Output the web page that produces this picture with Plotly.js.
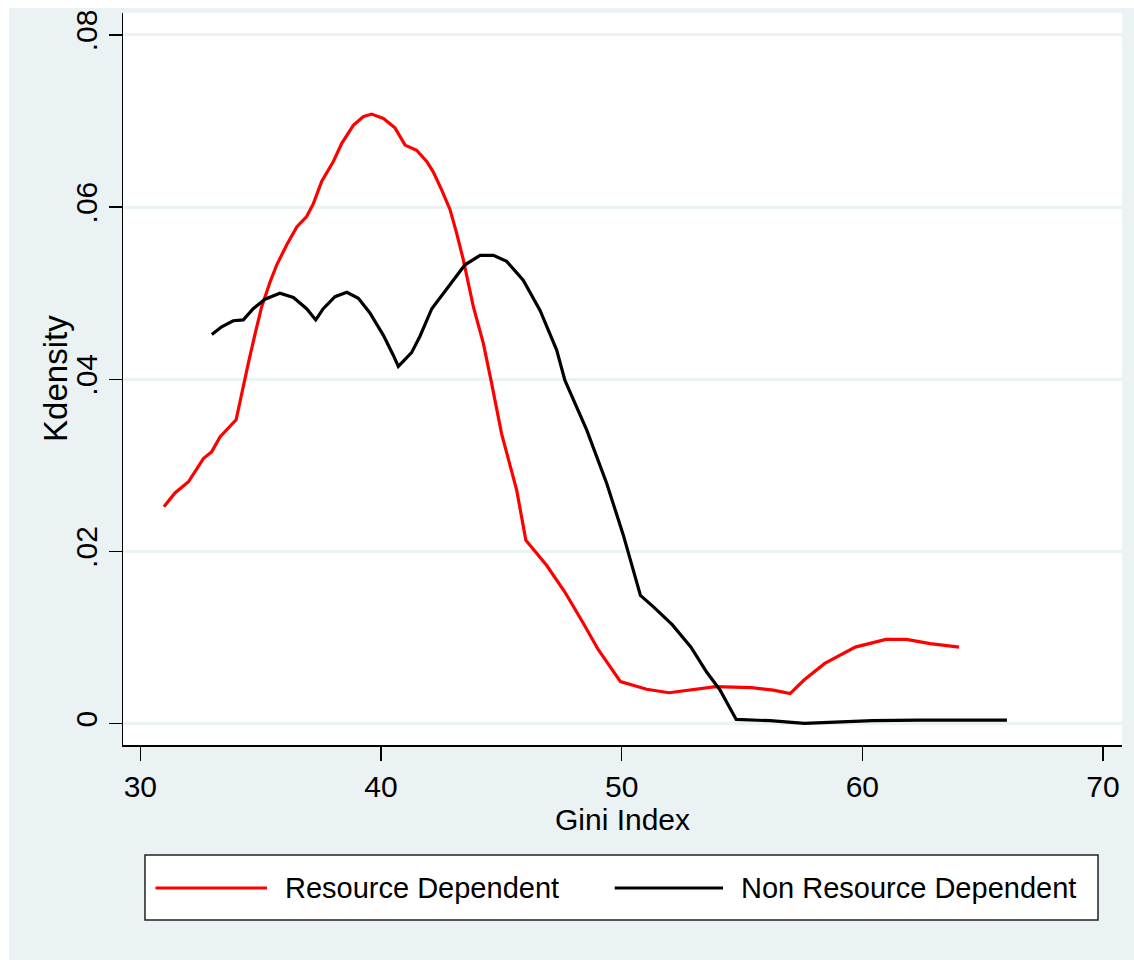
<!DOCTYPE html>
<html>
<head>
<meta charset="utf-8">
<script src="https://cdn.plot.ly/plotly-3.0.1.min.js"></script>
<style>
  html, body { margin: 0; padding: 0; background: #ffffff; }
  #chart { position: absolute; left: 9px; top: 8px; width: 1125px; height: 952px; }
</style>
</head>
<body>
<div id="chart"></div>
<script>
// Kernel density of the Gini index, by resource dependence
const resGini = [30.98, 31.44, 32.0, 32.62, 32.97, 33.31, 33.98, 34.21, 34.49, 34.77, 35.04, 35.39, 35.67, 36.08, 36.5, 36.91, 37.19, 37.54, 38.02, 38.37, 38.85, 39.26, 39.61, 40.1, 40.58, 41.0, 41.48, 41.9, 42.17, 42.52, 42.87, 43.14, 43.42, 43.84, 44.25, 44.6, 45.01, 45.64, 46.02, 46.88, 47.64, 48.4, 49.03, 49.95, 51.04, 51.97, 52.98, 53.91, 55.4, 56.3, 57.0, 57.59, 58.44, 59.71, 60.98, 61.83, 62.82, 64.02];
const resDensity = [0.0252, 0.0268, 0.0281, 0.0308, 0.0316, 0.0333, 0.0353, 0.0384, 0.0419, 0.0453, 0.0484, 0.0513, 0.0533, 0.0556, 0.0577, 0.0589, 0.0604, 0.063, 0.0653, 0.0674, 0.0695, 0.0705, 0.0708, 0.0703, 0.0692, 0.0672, 0.0666, 0.0653, 0.0641, 0.062, 0.0597, 0.057, 0.0539, 0.0484, 0.0442, 0.0395, 0.0337, 0.0271, 0.0213, 0.0184, 0.0153, 0.0117, 0.0086, 0.0049, 0.004, 0.0036, 0.004, 0.0043, 0.0042, 0.0039, 0.0035, 0.0051, 0.007, 0.0089, 0.0098, 0.0098, 0.0093, 0.0089];

const nonResGini = [32.97, 33.38, 33.86, 34.28, 34.69, 35.18, 35.8, 36.36, 36.91, 37.29, 37.6, 38.09, 38.58, 39.06, 39.54, 40.1, 40.51, 40.72, 41.27, 41.62, 42.11, 42.87, 43.49, 44.12, 44.67, 45.22, 45.91, 46.61, 47.3, 47.64, 48.55, 49.38, 50.07, 50.78, 51.31, 52.1, 52.88, 53.53, 54.09, 54.76, 56.17, 57.59, 58.72, 60.42, 62.4, 66.01];
const nonResDensity = [0.0452, 0.0461, 0.0468, 0.0469, 0.0482, 0.0493, 0.05, 0.0495, 0.0482, 0.0469, 0.0482, 0.0496, 0.0501, 0.0494, 0.0477, 0.0451, 0.0428, 0.0415, 0.0431, 0.045, 0.0482, 0.051, 0.0533, 0.0544, 0.0544, 0.0537, 0.0515, 0.048, 0.0434, 0.0399, 0.0341, 0.0279, 0.0219, 0.0149, 0.0136, 0.0115, 0.0089, 0.006, 0.0039, 0.0005, 0.00035, 0.00005, 0.00016, 0.00035, 0.00043, 0.00043];

const xTicks = [30, 40, 50, 60, 70];
const yTicks = [0, 0.02, 0.04, 0.06, 0.08];
const yTickText = ['0', '.02', '.04', '.06', '.08'];
const seriesNames = ['Resource Dependent', 'Non Resource Dependent'];
const seriesColors = ['#ff0000', '#000000'];

const FONT = 'Liberation Sans, Arial, Helvetica, sans-serif';
const BG = '#eaf2f3';

const traces = [
  { x: resGini, y: resDensity, name: seriesNames[0], type: 'scatter', mode: 'lines',
    line: { color: seriesColors[0], width: 3.2 }, showlegend: false },
  { x: nonResGini, y: nonResDensity, name: seriesNames[1], type: 'scatter', mode: 'lines',
    line: { color: seriesColors[1], width: 3.2 }, showlegend: false }
];

// Legend frame and keys, placed below the plot area
const legY = -0.1954;
const shapes = [
  { type: 'rect', xref: 'paper', yref: 'paper', x0: 0.0220, x1: 0.9760, y0: -0.2391, y1: -0.1503,
    line: { color: '#222222', width: 1.5 }, fillcolor: '#ffffff', layer: 'below' },
  { type: 'line', xref: 'paper', yref: 'paper', x0: 0.0325, x1: 0.1441, y0: legY, y1: legY,
    line: { color: seriesColors[0], width: 3 } },
  { type: 'line', xref: 'paper', yref: 'paper', x0: 0.4922, x1: 0.6006, y0: legY, y1: legY,
    line: { color: seriesColors[1], width: 3 } }
];
const annotations = [
  { xref: 'paper', yref: 'paper', x: 0.1600, y: legY, xanchor: 'left', yanchor: 'middle',
    text: seriesNames[0], showarrow: false, font: { family: FONT, size: 29, color: '#000' } },
  { xref: 'paper', yref: 'paper', x: 0.6165, y: legY, xanchor: 'left', yanchor: 'middle',
    text: seriesNames[1], showarrow: false, font: { family: FONT, size: 29, color: '#000' } },
  // y-axis title
  { xref: 'paper', yref: 'paper', x: -0.0671, y: 0.5014, xanchor: 'center', yanchor: 'middle',
    textangle: -90, text: 'Kdensity', showarrow: false,
    font: { family: FONT, size: 33, color: '#000' } }
];

const layout = {
  width: 1125, height: 952,
  margin: { l: 114, r: 12, t: 5, b: 215, pad: 0 },
  paper_bgcolor: BG,
  plot_bgcolor: '#ffffff',
  font: { family: FONT, color: '#000' },
  showlegend: false,
  xaxis: {
    range: [29.28, 70.79],
    tickvals: xTicks,
    ticks: 'outside', ticklen: 14, tickwidth: 1.3, tickcolor: '#000',
    tickfont: { family: FONT, size: 30, color: '#000' },
    showgrid: false, zeroline: false,
    showline: true, linecolor: '#000', linewidth: 1.5,
    title: { text: 'Gini Index', font: { family: FONT, size: 30, color: '#000' }, standoff: 6 }
  },
  yaxis: {
    range: [-0.00247, 0.08254],
    tickvals: yTicks, ticktext: yTickText,
    tickangle: -90,
    ticks: 'outside', ticklen: 13, tickwidth: 1.3, tickcolor: '#000',
    tickfont: { family: FONT, size: 30, color: '#000' },
    showgrid: true, gridcolor: BG, gridwidth: 3,
    zeroline: false,
    showline: true, linecolor: '#000', linewidth: 1.5
  },
  shapes: shapes,
  annotations: annotations
};

Plotly.newPlot('chart', traces, layout, { staticPlot: true, displayModeBar: false });
</script>
</body>
</html>
